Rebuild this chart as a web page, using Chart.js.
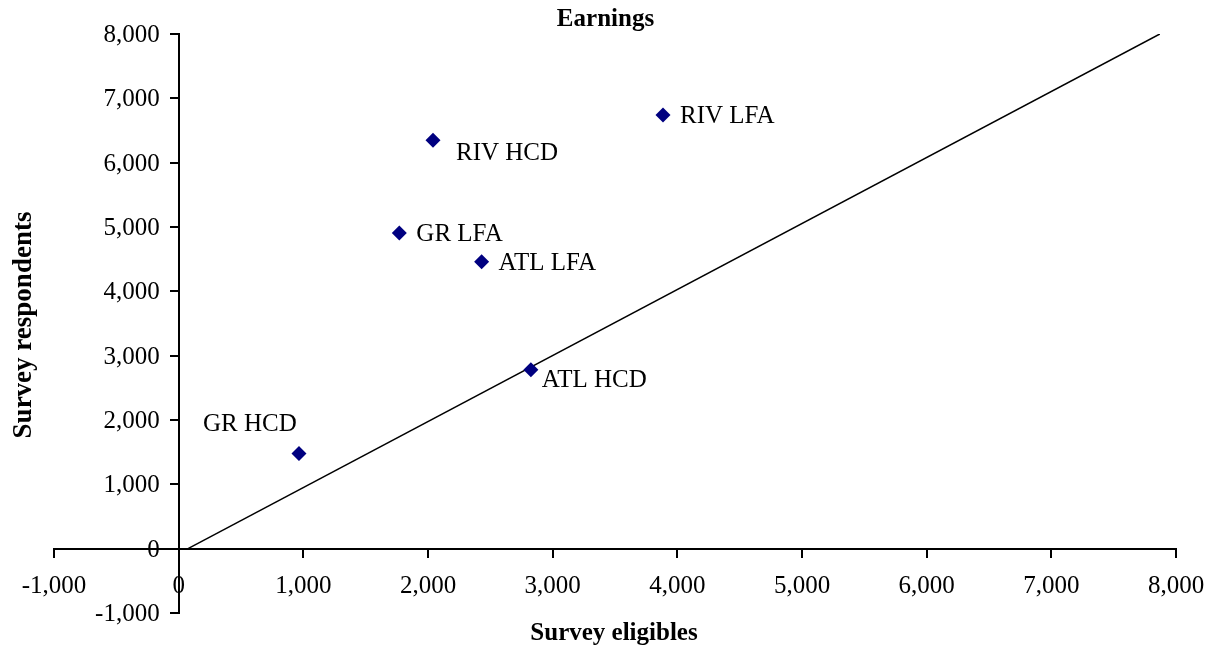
<!DOCTYPE html>
<html>
<head>
<meta charset="utf-8">
<title>Earnings</title>
<script src="https://cdn.jsdelivr.net/npm/chart.js@4/dist/chart.umd.min.js"></script>
<style>
  html, body { margin: 0; padding: 0; background: #ffffff; }
  #c { display: block; }
</style>
</head>
<body>
<canvas id="c" width="1211" height="650"></canvas>
<script>
// Program sites and their survey counts
const programs    = ['GR HCD', 'RIV HCD', 'RIV LFA', 'GR LFA', 'ATL LFA', 'ATL HCD'];
const eligibles   = [965, 2040, 3885, 1770, 2430, 2825];
const respondents = [1480, 6350, 6740, 4905, 4460, 2780];

// Reference line end points
const refLineX = [75, 7870];
const refLineY = [0, 8000];

// Shared axis range
const axisMin = -1000;
const axisMax = 8000;
const axisStep = 1000;

// Where each site name sits relative to its marker (px, left edge / cap middle)
const labelOffsets = {
  'GR HCD':  { dx: -96, dy: -31 },
  'RIV HCD': { dx: 23,  dy: 12 },
  'RIV LFA': { dx: 17,  dy: 0 },
  'GR LFA':  { dx: 17,  dy: 0 },
  'ATL LFA': { dx: 17,  dy: 0 },
  'ATL HCD': { dx: 11,  dy: 9 }
};

const SERIF = '"Liberation Serif", "Times New Roman", serif';
const fmt = v => Number(v).toLocaleString('en-US');

// Linear scale for axes that cross inside the plot: keeps the value labels of
// a vertical axis clear of its tick marks.
class CrossLinearScale extends Chart.LinearScale {
  _computeLabelItems(chartArea) {
    const items = super._computeLabelItems(chartArea);
    if (!this.isHorizontal()) {
      const gap = this.options.grid.tickLength + this.options.ticks.padding;
      items.forEach(it => {
        it.options.translation[0] -= gap;
        it.options.translation[1] += 1.5;
      });
    }
    return items;
  }
}
CrossLinearScale.id = 'crossLinear';
CrossLinearScale.defaults = Chart.LinearScale.defaults;
Chart.register(CrossLinearScale);

const sitePoints = eligibles.map((x, i) => ({ x: x, y: respondents[i] }));
const linePoints = refLineX.map((x, i) => ({ x: x, y: refLineY[i] }));

const annotate = {
  id: 'annotate',
  afterDatasetsDraw(chart) {
    const ctx = chart.ctx;
    const meta = chart.getDatasetMeta(0);
    ctx.save();
    ctx.fillStyle = '#000';
    ctx.font = '25px ' + SERIF;
    ctx.textAlign = 'left';
    ctx.textBaseline = 'alphabetic';
    meta.data.forEach((pt, i) => {
      const off = labelOffsets[programs[i]];
      ctx.fillText(programs[i], pt.x + off.dx, pt.y + off.dy + 8.3);
    });
    ctx.restore();
  },
  afterDraw(chart) {
    const ctx = chart.ctx;
    const ca = chart.chartArea;
    ctx.save();
    ctx.fillStyle = '#000';
    ctx.textAlign = 'center';
    ctx.textBaseline = 'alphabetic';
    ctx.font = 'bold 25px ' + SERIF;
    ctx.fillText('Earnings', chart.width / 2, 26);
    ctx.fillText('Survey eligibles', (ca.left + ca.right) / 2 - 1, 640);
    ctx.font = 'bold 27px ' + SERIF;
    ctx.translate(31, 325);
    ctx.rotate(-Math.PI / 2);
    ctx.fillText('Survey respondents', 0, 0);
    ctx.restore();
  }
};

const axisCommon = {
  type: 'crossLinear',
  min: axisMin,
  max: axisMax,
  grid: {
    display: true,
    drawOnChartArea: false,
    drawTicks: true,
    tickLength: 8,
    color: '#000',
    lineWidth: 2
  },
  border: { display: true, color: '#000', width: 2 },
  title: { display: false }
};

new Chart(document.getElementById('c'), {
  type: 'scatter',
  data: {
    datasets: [
      {
        label: 'Sites',
        data: sitePoints,
        pointStyle: 'rectRot',
        pointRadius: 7.5,
        pointHoverRadius: 7.5,
        backgroundColor: '#000080',
        borderColor: '#000080',
        borderWidth: 0
      },
      {
        label: 'Reference',
        data: linePoints,
        showLine: true,
        pointRadius: 0,
        borderColor: '#000',
        borderWidth: 1.5,
        fill: false
      }
    ]
  },
  options: {
    responsive: false,
    animation: false,
    devicePixelRatio: 1,
    layout: { padding: { left: 54, right: 35, top: 34, bottom: 37 } },
    plugins: {
      legend: { display: false },
      tooltip: { enabled: false },
      title: { display: false }
    },
    scales: {
      x: Object.assign({}, axisCommon, {
        position: { y: 0 },
        ticks: {
          stepSize: axisStep,
          color: '#000',
          padding: 6,
          maxRotation: 0,
          font: { family: SERIF, size: 25, lineHeight: 1.88 },
          callback: v => fmt(v)
        }
      }),
      y: Object.assign({}, axisCommon, {
        position: { x: 0 },
        ticks: {
          stepSize: axisStep,
          color: '#000',
          padding: 11,
          font: { family: SERIF, size: 25 },
          callback: v => fmt(v)
        }
      })
    }
  },
  plugins: [annotate]
});
</script>
</body>
</html>
